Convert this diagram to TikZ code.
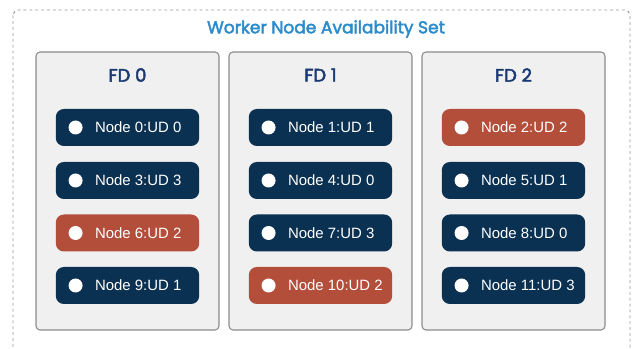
\documentclass[tikz,border=0pt]{standalone}
\usepackage{fontspec}
\setmainfont{Poppins}
\newfontfamily\medfont[FakeBold=2.6]{Poppins}
\newfontfamily\nodefont{Liberation Sans}
\definecolor{navy}{HTML}{0B3152}
\definecolor{rust}{HTML}{B24E3A}
\definecolor{titleblue}{HTML}{2B8BCB}
\definecolor{fdblue}{HTML}{1A3A74}
\definecolor{boxfill}{HTML}{F0F0F0}
\definecolor{boxline}{HTML}{8C8C8C}
\definecolor{dashgray}{HTML}{9A9A9A}
\begin{document}
\begin{tikzpicture}[x=0.75pt,y=-0.75pt,
  fdbox/.style={draw=boxline,line width=0.8pt,fill=boxfill,rounded corners=3pt},
  udnode/.style={rounded corners=6pt,minimum width=107.5pt,minimum height=27.75pt,inner sep=0pt},
  upnode/.style={udnode,fill=navy},
  downnode/.style={udnode,fill=rust},
  dot/.style={circle,fill=white,minimum size=10.5pt,inner sep=0pt},
  udlabel/.style={text=white,font=\nodefont\fontsize{11.2}{13}\selectfont,anchor=west,inner sep=0pt},
  fdlabel/.style={text=fdblue,font=\medfont\fontsize{13.5}{15}\selectfont},
]
\useasboundingbox (0,0) rectangle (633,349);
\begin{scope}
\clip (0,0) rectangle (633,349);
\draw[dashgray,line width=0.7pt,dash pattern=on 2.2pt off 2.2pt,rounded corners=4pt] (13,10) rectangle (630,380);
\end{scope}
\node[text=titleblue,font=\medfont\fontsize{12.8}{15}\selectfont] (title) at (326,29) {Worker Node Availability Set};
\foreach \i/\xl in {0/36,1/229,2/422}{
  \draw[fdbox] (\xl,52) rectangle ++(183,278);
  \node[fdlabel] (fd\i) at (\xl+91.5,75) {FD \i};
}
% nodes
\foreach \n/\x/\y/\ud/\st in {0/127.5/127.5/0/upnode,3/127.5/180.5/3/upnode,6/127.5/233/2/downnode,9/127.5/285.5/1/upnode,
  1/320.5/127.5/1/upnode,4/320.5/180.5/0/upnode,7/320.5/233/3/upnode,10/320.5/285.5/2/downnode,
  2/513.5/127.5/2/downnode,5/513.5/180.5/1/upnode,8/513.5/233/0/upnode,11/513.5/285.5/3/upnode}{
  \node[\st] (n\n) at (\x,\y) {};
  \node[dot] (d\n) at ([xshift=15pt]n\n.west) {};
  \node[udlabel] (t\n) at ([xshift=9pt]d\n.east) {Node \n:UD \ud};
}
\end{tikzpicture}
\end{document}
